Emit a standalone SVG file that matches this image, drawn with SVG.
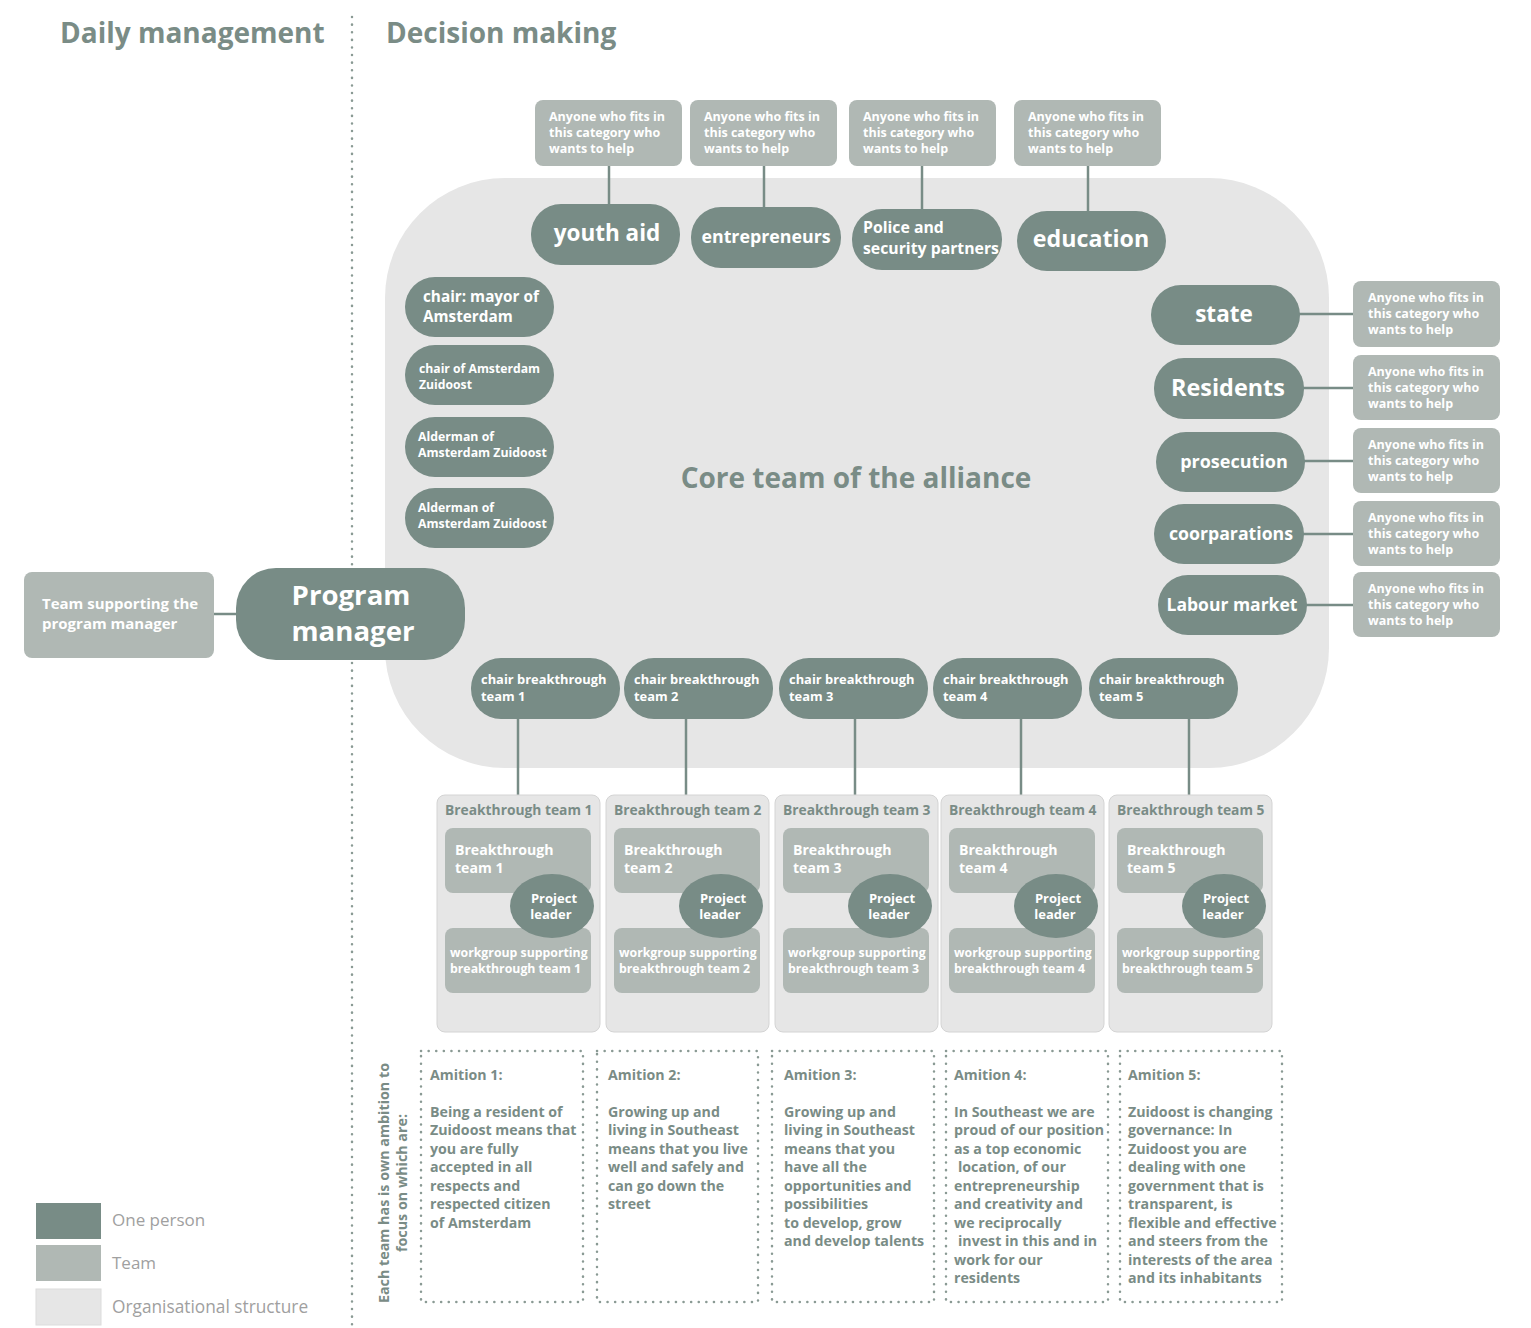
<svg xmlns="http://www.w3.org/2000/svg" width="1531" height="1328" viewBox="0 0 1531 1328">
<style>
text{font-family:"Open Sans","Noto Sans","Liberation Sans",sans-serif;font-weight:700}
.dark{fill:#788c86}
.team{fill:#b0b8b4}
.org{fill:#e6e6e6}
.w{fill:#ffffff}
.g{fill:#7a8c86}
.lg{fill:#a0a0a0;font-weight:400}
.conn{stroke:#788c86;stroke-width:2.5;fill:none}
.dot{stroke:#8a9a94;stroke-width:2.5;stroke-dasharray:0.1 7.5;stroke-linecap:round;fill:none}
.any{font-size:12.5px}
.c{text-anchor:middle}
</style>
<rect width="1531" height="1328" fill="#ffffff"/>
<text x="60" y="43" class="g" font-size="28">Daily management</text>
<text x="386" y="43" class="g" font-size="28">Decision making</text>
<line x1="352" y1="17" x2="352" y2="1328" class="dot"/>

<g id="core"><rect x="385" y="178" width="944" height="590" rx="120" class="org"/>
<text x="856" y="488" class="g c" font-size="28">Core team of the alliance</text></g>

<g id="connectors">
<line x1="609" y1="166" x2="609" y2="206" class="conn"/>
<line x1="764" y1="166" x2="764" y2="209" class="conn"/>
<line x1="922" y1="166" x2="922" y2="211" class="conn"/>
<line x1="1088" y1="166" x2="1088" y2="213" class="conn"/>
<line x1="1299" y1="314" x2="1353" y2="314" class="conn"/>
<line x1="1303" y1="388" x2="1353" y2="388" class="conn"/>
<line x1="1304" y1="461" x2="1353" y2="461" class="conn"/>
<line x1="1303" y1="534" x2="1353" y2="534" class="conn"/>
<line x1="1306" y1="605" x2="1353" y2="605" class="conn"/>
<line x1="214" y1="614" x2="237" y2="614" class="conn"/>
<line x1="518" y1="718" x2="518" y2="796" class="conn"/>
<line x1="686" y1="718" x2="686" y2="796" class="conn"/>
<line x1="855" y1="718" x2="855" y2="796" class="conn"/>
<line x1="1021" y1="718" x2="1021" y2="796" class="conn"/>
<line x1="1189" y1="718" x2="1189" y2="796" class="conn"/>
</g>

<g id="help-top-1"><rect x="535" y="100" width="147" height="66" rx="8" class="team"/><text class="w any" x="549" y="121">Anyone who fits in</text><text class="w any" x="549" y="137">this category who</text><text class="w any" x="549" y="153">wants to help</text></g>
<g id="help-top-2"><rect x="690" y="100" width="147" height="66" rx="8" class="team"/><text class="w any" x="704" y="121">Anyone who fits in</text><text class="w any" x="704" y="137">this category who</text><text class="w any" x="704" y="153">wants to help</text></g>
<g id="help-top-3"><rect x="849" y="100" width="147" height="66" rx="8" class="team"/><text class="w any" x="863" y="121">Anyone who fits in</text><text class="w any" x="863" y="137">this category who</text><text class="w any" x="863" y="153">wants to help</text></g>
<g id="help-top-4"><rect x="1014" y="100" width="147" height="66" rx="8" class="team"/><text class="w any" x="1028" y="121">Anyone who fits in</text><text class="w any" x="1028" y="137">this category who</text><text class="w any" x="1028" y="153">wants to help</text></g>

<g id="youth-aid"><rect x="531" y="204" width="149" height="61" rx="30" class="dark"/><text x="607" y="241" class="w c" font-size="22.5">youth aid</text></g>
<g id="entrepreneurs"><rect x="691" y="207" width="150" height="61" rx="30" class="dark"/><text x="766" y="243" class="w c" font-size="17.8">entrepreneurs</text></g>
<g id="police"><rect x="852" y="209" width="150" height="61" rx="30" class="dark"/><text x="863" y="233" class="w" font-size="15.8">Police and</text><text x="863" y="254" class="w" font-size="15.8">security partners</text></g>
<g id="education"><rect x="1017" y="211" width="149" height="60" rx="30" class="dark"/><text x="1091" y="247" class="w c" font-size="23.2">education</text></g>

<g id="chair-mayor"><rect x="405" y="277" width="149" height="60" rx="30" class="dark"/><text x="423" y="302" class="w" font-size="15.3">chair: mayor of</text><text x="423" y="322" class="w" font-size="15.3">Amsterdam</text></g>
<g id="chair-zuidoost"><rect x="405" y="345" width="149" height="60" rx="30" class="dark"/><text x="419" y="373" class="w" font-size="12.2">chair of Amsterdam</text><text x="419" y="389" class="w" font-size="12.2">Zuidoost</text></g>
<g id="alderman-1"><rect x="405" y="417" width="149" height="60" rx="30" class="dark"/><text x="418" y="441" class="w" font-size="12.3">Alderman of</text><text x="418" y="457" class="w" font-size="12.3">Amsterdam Zuidoost</text></g>
<g id="alderman-2"><rect x="405" y="488" width="149" height="60" rx="30" class="dark"/><text x="418" y="512" class="w" font-size="12.3">Alderman of</text><text x="418" y="528" class="w" font-size="12.3">Amsterdam Zuidoost</text></g>

<g id="state"><rect x="1151" y="285" width="149" height="60" rx="30" class="dark"/><text x="1224" y="322" class="w c" font-size="22.5">state</text></g>
<g id="residents"><rect x="1154" y="358" width="150" height="61" rx="30" class="dark"/><text x="1228" y="396" class="w c" font-size="23.4">Residents</text></g>
<g id="prosecution"><rect x="1156" y="432" width="149" height="60" rx="30" class="dark"/><text x="1234" y="468" class="w c" font-size="18">prosecution</text></g>
<g id="coorparations"><rect x="1154" y="504" width="150" height="60" rx="30" class="dark"/><text x="1231" y="540" class="w c" font-size="17.7">coorparations</text></g>
<g id="labour"><rect x="1158" y="575" width="149" height="60" rx="30" class="dark"/><text x="1232" y="611" class="w c" font-size="17.5">Labour market</text></g>

<g id="help-right-1"><rect x="1353" y="281" width="147" height="66" rx="8" class="team"/><text class="w any" x="1368" y="302">Anyone who fits in</text><text class="w any" x="1368" y="318">this category who</text><text class="w any" x="1368" y="334">wants to help</text></g>
<g id="help-right-2"><rect x="1353" y="355" width="147" height="65" rx="8" class="team"/><text class="w any" x="1368" y="376">Anyone who fits in</text><text class="w any" x="1368" y="392">this category who</text><text class="w any" x="1368" y="408">wants to help</text></g>
<g id="help-right-3"><rect x="1353" y="428" width="147" height="65" rx="8" class="team"/><text class="w any" x="1368" y="449">Anyone who fits in</text><text class="w any" x="1368" y="465">this category who</text><text class="w any" x="1368" y="481">wants to help</text></g>
<g id="help-right-4"><rect x="1353" y="501" width="147" height="65" rx="8" class="team"/><text class="w any" x="1368" y="522">Anyone who fits in</text><text class="w any" x="1368" y="538">this category who</text><text class="w any" x="1368" y="554">wants to help</text></g>
<g id="help-right-5"><rect x="1353" y="572" width="147" height="65" rx="8" class="team"/><text class="w any" x="1368" y="593">Anyone who fits in</text><text class="w any" x="1368" y="609">this category who</text><text class="w any" x="1368" y="625">wants to help</text></g>

<g id="team-support"><rect x="24" y="572" width="190" height="86" rx="8" class="team"/><text x="42" y="609" class="w" font-size="15">Team supporting the</text><text x="42" y="629" class="w" font-size="15">program manager</text></g>
<g id="program-manager"><rect x="236" y="568" width="229" height="92" rx="40" class="dark"/><text x="351" y="605" class="w c" font-size="27.6">Program</text><text x="353" y="641" class="w c" font-size="27.6">manager</text></g>

<g id="chair-bt-1"><rect x="471" y="658" width="149" height="61" rx="30" class="dark"/><text x="481" y="684" class="w" font-size="12.9">chair breakthrough</text><text x="481" y="701" class="w" font-size="12.9">team 1</text></g>
<g id="chair-bt-2"><rect x="624" y="658" width="149" height="61" rx="30" class="dark"/><text x="634" y="684" class="w" font-size="12.9">chair breakthrough</text><text x="634" y="701" class="w" font-size="12.9">team 2</text></g>
<g id="chair-bt-3"><rect x="779" y="658" width="149" height="61" rx="30" class="dark"/><text x="789" y="684" class="w" font-size="12.9">chair breakthrough</text><text x="789" y="701" class="w" font-size="12.9">team 3</text></g>
<g id="chair-bt-4"><rect x="933" y="658" width="149" height="61" rx="30" class="dark"/><text x="943" y="684" class="w" font-size="12.9">chair breakthrough</text><text x="943" y="701" class="w" font-size="12.9">team 4</text></g>
<g id="chair-bt-5"><rect x="1089" y="658" width="149" height="61" rx="30" class="dark"/><text x="1099" y="684" class="w" font-size="12.9">chair breakthrough</text><text x="1099" y="701" class="w" font-size="12.9">team 5</text></g>

<g id="bt-1"><rect x="437" y="795" width="163" height="237" rx="8" class="org" stroke="#d4d4d4"/><text x="445" y="815" class="g" font-size="13.8">Breakthrough team 1</text><rect x="445" y="828" width="146" height="65" rx="8" class="team"/><text x="455" y="855" class="w" font-size="14.1">Breakthrough</text><text x="455" y="873" class="w" font-size="14.1">team 1</text><rect x="445" y="928" width="146" height="65" rx="8" class="team"/><text x="450" y="957" class="w" font-size="12.3">workgroup supporting</text><text x="450" y="973" class="w" font-size="12.3">breakthrough team 1</text><ellipse cx="552" cy="906" rx="42" ry="32" class="dark"/><text x="554" y="903" class="w c" font-size="13">Project</text><text x="551" y="919" class="w c" font-size="13">leader</text></g>
<g id="bt-2"><rect x="606" y="795" width="163" height="237" rx="8" class="org" stroke="#d4d4d4"/><text x="614" y="815" class="g" font-size="13.8">Breakthrough team 2</text><rect x="614" y="828" width="146" height="65" rx="8" class="team"/><text x="624" y="855" class="w" font-size="14.1">Breakthrough</text><text x="624" y="873" class="w" font-size="14.1">team 2</text><rect x="614" y="928" width="146" height="65" rx="8" class="team"/><text x="619" y="957" class="w" font-size="12.3">workgroup supporting</text><text x="619" y="973" class="w" font-size="12.3">breakthrough team 2</text><ellipse cx="721" cy="906" rx="42" ry="32" class="dark"/><text x="723" y="903" class="w c" font-size="13">Project</text><text x="720" y="919" class="w c" font-size="13">leader</text></g>
<g id="bt-3"><rect x="775" y="795" width="163" height="237" rx="8" class="org" stroke="#d4d4d4"/><text x="783" y="815" class="g" font-size="13.8">Breakthrough team 3</text><rect x="783" y="828" width="146" height="65" rx="8" class="team"/><text x="793" y="855" class="w" font-size="14.1">Breakthrough</text><text x="793" y="873" class="w" font-size="14.1">team 3</text><rect x="783" y="928" width="146" height="65" rx="8" class="team"/><text x="788" y="957" class="w" font-size="12.3">workgroup supporting</text><text x="788" y="973" class="w" font-size="12.3">breakthrough team 3</text><ellipse cx="890" cy="906" rx="42" ry="32" class="dark"/><text x="892" y="903" class="w c" font-size="13">Project</text><text x="889" y="919" class="w c" font-size="13">leader</text></g>
<g id="bt-4"><rect x="941" y="795" width="163" height="237" rx="8" class="org" stroke="#d4d4d4"/><text x="949" y="815" class="g" font-size="13.8">Breakthrough team 4</text><rect x="949" y="828" width="146" height="65" rx="8" class="team"/><text x="959" y="855" class="w" font-size="14.1">Breakthrough</text><text x="959" y="873" class="w" font-size="14.1">team 4</text><rect x="949" y="928" width="146" height="65" rx="8" class="team"/><text x="954" y="957" class="w" font-size="12.3">workgroup supporting</text><text x="954" y="973" class="w" font-size="12.3">breakthrough team 4</text><ellipse cx="1056" cy="906" rx="42" ry="32" class="dark"/><text x="1058" y="903" class="w c" font-size="13">Project</text><text x="1055" y="919" class="w c" font-size="13">leader</text></g>
<g id="bt-5"><rect x="1109" y="795" width="163" height="237" rx="8" class="org" stroke="#d4d4d4"/><text x="1117" y="815" class="g" font-size="13.8">Breakthrough team 5</text><rect x="1117" y="828" width="146" height="65" rx="8" class="team"/><text x="1127" y="855" class="w" font-size="14.1">Breakthrough</text><text x="1127" y="873" class="w" font-size="14.1">team 5</text><rect x="1117" y="928" width="146" height="65" rx="8" class="team"/><text x="1122" y="957" class="w" font-size="12.3">workgroup supporting</text><text x="1122" y="973" class="w" font-size="12.3">breakthrough team 5</text><ellipse cx="1224" cy="906" rx="42" ry="32" class="dark"/><text x="1226" y="903" class="w c" font-size="13">Project</text><text x="1223" y="919" class="w c" font-size="13">leader</text></g>

<g id="ambition-note"><text transform="translate(389,1183) rotate(-90)" class="g c" font-size="14.3">Each team has is own ambition to</text><text transform="translate(407,1183) rotate(-90)" class="g c" font-size="14.3">focus on which are:</text></g>

<g id="ambition-1" font-size="14.2"><rect x="421" y="1051" width="162" height="251" class="dot"/><text class="g" x="430" y="1080">Amition 1:</text><text class="g" x="430" y="1117">Being a resident of</text><text class="g" x="430" y="1135">Zuidoost means that</text><text class="g" x="430" y="1154">you are fully</text><text class="g" x="430" y="1172">accepted in all</text><text class="g" x="430" y="1191">respects and</text><text class="g" x="430" y="1209">respected citizen</text><text class="g" x="430" y="1228">of Amsterdam</text></g>
<g id="ambition-2" font-size="14.2"><rect x="597" y="1051" width="161" height="251" class="dot"/><text class="g" x="608" y="1080">Amition 2:</text><text class="g" x="608" y="1117">Growing up and</text><text class="g" x="608" y="1135">living in Southeast</text><text class="g" x="608" y="1154">means that you live</text><text class="g" x="608" y="1172">well and safely and</text><text class="g" x="608" y="1191">can go down the</text><text class="g" x="608" y="1209">street</text></g>
<g id="ambition-3" font-size="14.2"><rect x="772" y="1051" width="162" height="251" class="dot"/><text class="g" x="784" y="1080">Amition 3:</text><text class="g" x="784" y="1117">Growing up and</text><text class="g" x="784" y="1135">living in Southeast</text><text class="g" x="784" y="1154">means that you</text><text class="g" x="784" y="1172">have all the</text><text class="g" x="784" y="1191">opportunities and</text><text class="g" x="784" y="1209">possibilities</text><text class="g" x="784" y="1228">to develop, grow</text><text class="g" x="784" y="1246">and develop talents</text></g>
<g id="ambition-4" font-size="14.2"><rect x="946" y="1051" width="162" height="251" class="dot"/><text class="g" x="954" y="1080">Amition 4:</text><text class="g" x="954" y="1117">In Southeast we are</text><text class="g" x="954" y="1135">proud of our position</text><text class="g" x="954" y="1154">as a top economic</text><text class="g" x="958" y="1172">location, of our</text><text class="g" x="954" y="1191">entrepreneurship</text><text class="g" x="954" y="1209">and creativity and</text><text class="g" x="954" y="1228">we reciprocally</text><text class="g" x="958" y="1246">invest in this and in</text><text class="g" x="954" y="1265">work for our</text><text class="g" x="954" y="1283">residents</text></g>
<g id="ambition-5" font-size="14.2"><rect x="1120" y="1051" width="162" height="251" class="dot"/><text class="g" x="1128" y="1080">Amition 5:</text><text class="g" x="1128" y="1117">Zuidoost is changing</text><text class="g" x="1128" y="1135">governance: In</text><text class="g" x="1128" y="1154">Zuidoost you are</text><text class="g" x="1128" y="1172">dealing with one</text><text class="g" x="1128" y="1191">government that is</text><text class="g" x="1128" y="1209">transparent, is</text><text class="g" x="1128" y="1228">flexible and effective</text><text class="g" x="1128" y="1246">and steers from the</text><text class="g" x="1128" y="1265">interests of the area</text><text class="g" x="1128" y="1283">and its inhabitants</text></g>

<g id="legend">
<rect x="36" y="1203" width="65" height="36" class="dark"/>
<rect x="36" y="1245" width="65" height="36" class="team"/>
<rect x="36" y="1289" width="65" height="36" class="org" stroke="#dcdcdc"/>
<text x="112" y="1226" class="lg" font-size="17">One person</text>
<text x="112" y="1269" class="lg" font-size="17">Team</text>
<text x="112" y="1313" class="lg" font-size="17.3">Organisational structure</text>
</g>
</svg>
